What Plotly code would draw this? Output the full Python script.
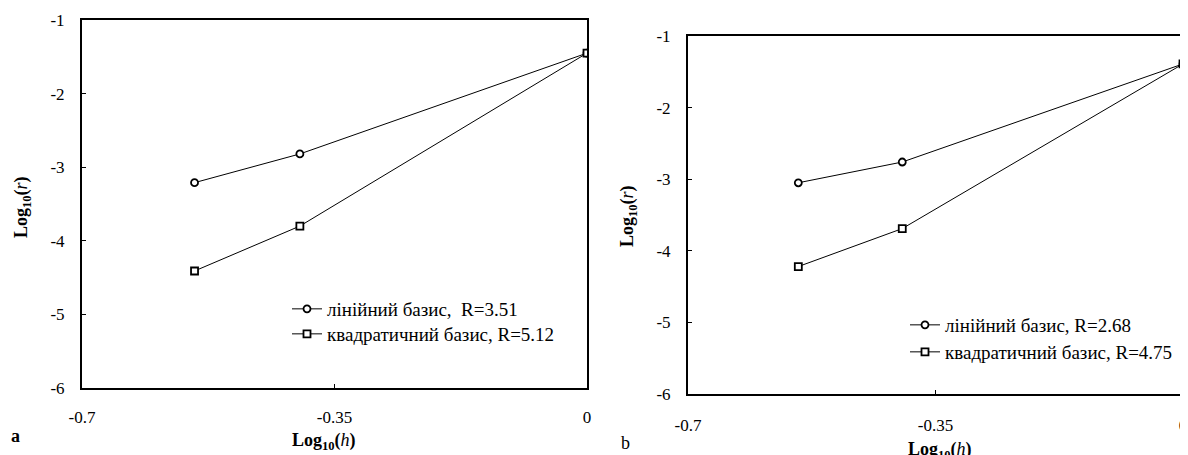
import plotly.graph_objects as go

# Panel a
xa = [-0.544, -0.398, 0.0]
lin_a = [-3.21, -2.82, -1.45]
quad_a = [-4.41, -3.80, -1.45]
# Panel b
xb = [-0.544, -0.397, 0.0]
lin_b = [-3.05, -2.76, -1.39]
quad_b = [-4.22, -3.69, -1.39]

lin_name_a = "лінійний базис,  R=3.51"
quad_name_a = "квадратичний базис, R=5.12"
lin_name_b = "лінійний базис, R=2.68"
quad_name_b = "квадратичний базис, R=4.75"

xticks = [-0.7, -0.35, 0]
xticklabels = ["-0.7", "-0.35", "0"]
yticks = [-1, -2, -3, -4, -5, -6]
yticklabels = ["-1", "-2", "-3", "-4", "-5", "-6"]

FONT = "Liberation Serif, Times New Roman, serif"

# page is drawn with an 8px body offset; helpers convert page px -> paper coords
W, H = 1180, 447
ML, MR, MT, MB = 74, 5, 12, 61
PW, PH = W - ML - MR, H - MT - MB


def px(page_x):
    return (page_x - 8 - ML) / PW


def py(page_y):
    return (H - MB - (page_y - 8)) / PH


fig = go.Figure()


def add(x, y, name, sym, xa_, ya_, leg):
    fig.add_trace(go.Scatter(
        x=x, y=y, name=name, mode="lines+markers",
        line=dict(color="black", width=1),
        marker=dict(symbol=sym, size=7, color="white", line=dict(color="black", width=1.8)),
        xaxis=xa_, yaxis=ya_, legend=leg))


add(xa, lin_a, lin_name_a, "circle", "x", "y", "legend")
add(xa, quad_a, quad_name_a, "square", "x", "y", "legend2")
add(xb, lin_b, lin_name_b, "circle", "x2", "y2", "legend3")
add(xb, quad_b, quad_name_b, "square", "x2", "y2", "legend4")

axis_common = dict(showgrid=False, zeroline=False, showline=True, linecolor="black",
                   linewidth=2, mirror=True, ticks="inside", ticklen=4, automargin=False,
                   tickcolor="black", tickfont=dict(family=FONT, size=17, color="black"))

leg_common = dict(xref="paper", yref="paper", xanchor="left", yanchor="middle",
                  bgcolor="rgba(0,0,0,0)", font=dict(family=FONT, size=19, color="black"),
                  itemwidth=30, borderwidth=0)

fig.update_layout(
    width=W, height=H,
    margin=dict(l=ML, r=MR, t=MT, b=MB, autoexpand=False),
    plot_bgcolor="white", paper_bgcolor="white",
    showlegend=True,
    xaxis=dict(domain=[px(82), px(587)], range=[-0.7, 0], tickvals=xticks, ticktext=xticklabels,
               anchor="y", ticklabelstandoff=13, **axis_common),
    yaxis=dict(domain=[py(388), py(20)], range=[-6, -1], tickvals=yticks, ticktext=yticklabels,
               anchor="x", ticklabelstandoff=12, **axis_common),
    xaxis2=dict(domain=[px(688), px(1183)], range=[-0.7, 0], tickvals=xticks, ticktext=xticklabels,
                anchor="y2", ticklabelstandoff=15, **axis_common),
    yaxis2=dict(domain=[py(394), py(36)], range=[-6, -1], tickvals=yticks, ticktext=yticklabels,
                anchor="x2", ticklabelstandoff=12, **axis_common),
    legend=dict(x=px(287), y=py(309), **leg_common),
    legend2=dict(x=px(287), y=py(334), **leg_common),
    legend3=dict(x=px(905), y=py(325), **leg_common),
    legend4=dict(x=px(905), y=py(352), **leg_common),
)

title_y = "<b>Log<sub>10</sub>(</b><i>r</i><b>)</b>"
title_x = "<b>Log<sub>10</sub>(</b><i>h</i><b>)</b>"
tf = dict(family=FONT, size=18, color="black")
ann = [
    dict(text=title_y, x=22, y=207, textangle=-90),
    dict(text=title_y, x=628, y=216, textangle=-90),
    dict(text=title_x, x=324, y=441, textangle=0),
    dict(text=title_x, x=940, y=450, textangle=0),
    dict(text="<b>a</b>", x=15, y=436, textangle=0),
    dict(text="b", x=625, y=443, textangle=0),
]
for a in ann:
    fig.add_annotation(text=a["text"], x=px(a["x"]), y=py(a["y"]),
                       xref="paper", yref="paper", showarrow=False, textangle=a["textangle"],
                       font=tf, xanchor="center", yanchor="middle")

fig.write_html("out.html")
